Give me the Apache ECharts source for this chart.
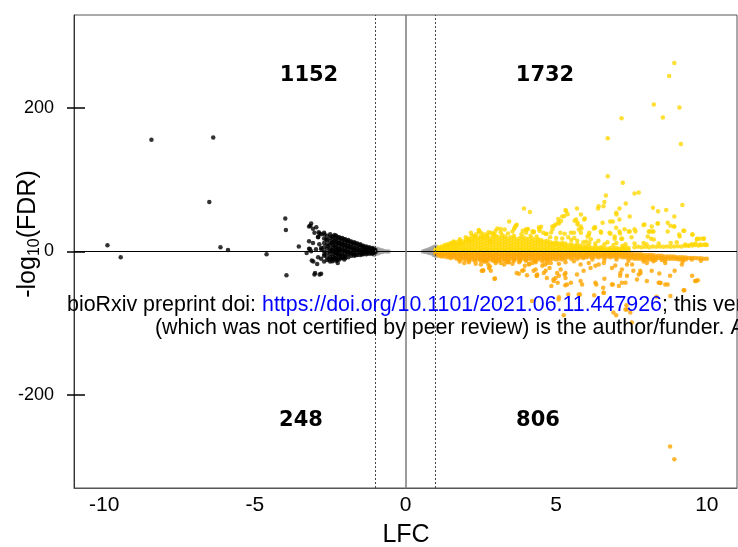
<!DOCTYPE html>
<html>
<head>
<meta charset="utf-8">
<script src="https://cdn.jsdelivr.net/npm/echarts@6/dist/echarts.min.js"></script>
<style>
html,body{margin:0;padding:0;background:#fff;}
#chart{width:738px;height:547px;}
</style>
</head>
<body>
<div id="chart"></div>
<script>
// ---- data ----
const xTicks = [-10, -5, 0, 5, 10];
const yTicks = [-200, 0, 200];
const countLabels = ['1152', '1732', '248', '806'];
const xLabel = 'LFC';

// grey (not significant) points
const greyPts = [
  [-1.04,5],[-1.04,1.5],[-1.04,-2],[-1.04,-5],[-0.97,4],[-0.97,0.5],[-0.97,-3],[-0.9,3],[-0.9,0],[-0.9,-2.5],
  [-0.83,2],[-0.83,-1],[-0.76,1.5],[-0.76,-0.8],[-0.69,0.5],[-0.62,0],[-0.56,0],
  [1.0,7],[1.0,3.5],[1.0,0],[1.0,-3.5],[1.0,-6],[0.93,6],[0.93,2.5],[0.93,-1],[0.93,-4.5],[0.86,4.5],[0.86,1],
  [0.86,-2.5],[0.79,3],[0.79,0],[0.79,-2],[0.72,2],[0.72,-1],[0.65,1],[0.65,-0.5],[0.58,0]
];

// black (down-regulated) dense band, columns: [x, y1, y2, ...]
const blackBand = [
  [-2.9,20,-8],[-2.8,24,5,-10],[-2.7,26,18,12,6,0,-6,-14],[-2.6,22,16,10,4,-2,-8,-12],
  [-2.5,24,19,14,9,4,0,-4,-8,-14],[-2.45,21,12,2,-10],[-2.4,21,17,13,9,5,1,-3,-7,-11],[-2.35,23,15,7,-1,-9],
  [-2.3,22,18,14,10,6,2,-2,-6,-10,-13],[-2.25,20,12,4,-4,-11],[-2.2,20,16,12,8,4,0,-4,-8,-11],
  [-2.15,18,10,2,-6],[-2.1,19,15,11,7,3,-1,-5,-9],[-2.05,17,9,1,-7],[-2.0,17,13,9,5,1,-3,-7,-9],
  [-1.95,15,7,-1],[-1.9,16,12,8,4,0,-4,-8],[-1.85,14,6,-2],[-1.8,14,10,6,2,-2,-6],[-1.75,12,4,-4],
  [-1.7,13,9,5,1,-3,-6],[-1.65,11,3,-5],[-1.6,11,7,3,-1,-5],[-1.55,9,1],[-1.5,10,6,2,-2,-5],
  [-1.45,8,0,-4],[-1.4,8,5,2,-1,-4],[-1.35,6,0],[-1.3,7,4,1,-2,-4],[-1.25,5,-1],[-1.2,6,3,0,-3],
  [-1.15,4,-2],[-1.1,5,2,-1,-3],[-1.05,3,0,-2],[-1.0,2,-1]
];
const blackPts = [
  [-9.89,8.8],[-9.45,-7.9],[-8.43,156],[-6.38,159],[-6.51,69],[-6.14,6],[-5.89,2],[-4.61,-3.8],
  [-3.99,46],[-3.97,30],[-3.95,-33],[-3.54,7],[-3.02,-32],[-2.8,-31],[-2.85,-32],
  [-3.13,39],[-3.16,36],[-3.2,35],[-2.96,34],[-3.07,31.6],[-3.02,26],[-2.85,25],[-2.88,27],
  [-3.2,14.3],[-3.07,12],[-2.9,20.5],[-2.69,23.7],[-2.63,16.7],[-2.86,10],[-3.2,4],[-3.13,0.5],
  [-2.97,3],[-3.28,-2],[-3.17,3.5],[-2.79,2.8],[-2.69,-4.2],[-2.53,-11],[-2.42,-13.5],[-2.25,-16],
  [-2.58,7.4],[-2.3,0.4],[-2.13,-9],[-2.03,-11],[-3.06,-14],[-2.93,-17.5],[-3.11,-12.5],[-3.0,-30]
];

// yellow (up, positive side) dense band, columns: [x, y1, y2, ...]
const yellowBand = [
  [1.0,1,3],[1.1,1,3.5,6],[1.2,2,5,7],[1.3,1,4,7,9],[1.4,2,5,8,10],[1.5,1,4,7,10,12],[1.6,2,5,8,11,13],
  [1.7,1,4,7,10,13],[1.8,2,6,9,12,15],[1.9,1,4,8,11,14],[2.0,2,5,9,13,16],[2.1,1,4,8,12,15,18],
  [2.2,2,6,10,14,17],[2.3,1,5,9,13,17,20],[2.4,3,7,11,15,19],[2.5,1,5,9,13,17,21],[2.6,2,6,10,14,18],
  [2.7,1,4,8,12,16,20,23],[2.8,2,6,10,14,18],[2.9,1,5,9,13,17,21],[3.0,2,6,10,14,18,22],
  [3.1,1,4,8,12,16,20],[3.2,2,6,10,14,19,23],[3.3,1,5,9,13,17,21],[3.4,2,6,10,14,18],
  [3.5,1,4,8,12,16,20],[3.6,2,6,10,14,18,22],[3.7,1,5,9,13,17],[3.8,2,6,10,14,19],
  [3.9,1,4,8,12,16,20],[4.0,2,6,10,14,18],[4.1,1,5,9,13,17],[4.2,2,6,10,14,18],[4.3,1,4,8,12,16],
  [4.4,2,6,10,14,17],[4.5,1,5,9,13,16],[4.6,2,6,10,14],[4.7,1,4,8,12,15],[4.8,2,6,10,13],
  [4.9,1,5,9,12],[5.0,2,6,10,13],[5.1,1,4,8,11],[5.2,2,6,9,12],[5.3,1,5,8,11],[5.4,2,5,9],
  [5.5,1,4,7,10],[5.6,2,5,8],[5.7,1,4,7,10],[5.8,2,5,8],[5.9,1,4,7],[6.0,2,5,8],[6.1,1,4,7],
  [6.2,2,5],[6.3,1,4,7],[6.4,2,5],[6.5,1,4,6],[6.6,2,5],[6.7,1,4],[6.8,2,5],[6.9,1,4],[7.0,2,5],
  [7.1,1,4],[7.2,2,5],[7.3,3,6],[7.4,2,5],[7.6,6],[7.72,6.5],[7.84,6],[7.96,6.5],[8.08,6],[8.2,7],
  [8.32,6.5],[8.44,7],[8.56,6.5],[8.68,7],[8.8,6.5],[8.92,7],[9.04,7.5],[9.16,7],[9.28,8],[9.4,8],
  [9.52,8.5],[9.62,9],[9.72,8.5],[9.82,9],[9.92,9.5],[10.0,9]
];
const yellowPts = [
  [8.92,263],[8.75,245],[8.24,205],[9.09,201],[8.54,187],[7.17,186],[9.14,150],[6.71,158],[6.71,105],
  [7.21,96],[6.65,78],[7.6,81],[7.74,82.5],[6.6,69],[7.31,67],[9.19,65],[6.41,63],[6.57,63],[6.39,60],
  [3.93,60],[4.13,55],[5.69,60],[5.31,58],[7.1,60],[8.21,61],[8.65,58],[8.38,56],[5.33,56],[5.2,49],
  [5.07,45.5],[5.09,39],[4.98,37.6],[4.87,35],[3.44,42],[3.66,36],[3.63,34],[3.05,32],[3.29,30.6],
  [3.16,27],[2.44,28],[2.43,30],[2.83,26],[4.04,30.6],[4.0,26],[4.25,27],[4.57,26],[4.68,24.6],
  [5.14,26],[5.28,24.6],[4.43,34],[4.21,28],[3.99,30.6],
  [5.82,51.5],[5.95,46],[5.61,43],[5.71,37.6],[5.75,30.6],[5.84,32],[7.0,51.5],[7.44,49],[7.1,44.5],
  [6.79,42],[6.54,40],[6.25,32],[6.28,34],[7.9,37],[8.37,39],[8.7,40],[8.79,36],[8.91,35],[8.92,49],
  [6.48,28],[6.08,23],[6.04,21],[6.15,17],[5.59,26],[6.8,24.6],[6.94,21],[7.12,25],[7.19,17.7],
  [7.41,28],[7.63,28],[7.5,20],[8.07,28],[8.18,28],[8.04,21],[8.15,17.7],[8.24,16.7],[7.9,12],
  [9.22,29],[9.1,21],[9.52,23.7],[9.67,16.7],[9.78,17.7],[9.89,17.7],[9.95,9.7],[9.78,9.7],[9.28,9.7],
  [9.39,8.4],[9.5,10],[9.62,11],
  [3.69,37.5],[3.6,31.3],[3.16,31.3],[2.99,29],[2.94,24.3],[2.72,22],[2.44,29],[2.28,22],[2.17,26],
  [2.06,17],[2.56,20.5],[2.79,14.5],[3.89,29],[4.06,31.3],[4.26,28],[4.5,34.5],[4.44,31.3],[4.66,24.3],
  [4.83,26.5],[4.94,36],[4.88,31],[5.07,40.4],[5.16,42.6],[5.27,49.6],[5.38,52],[5.66,44.5],[5.71,40],
  [5.93,44.5],[5.82,35],[5.49,26],[5.6,19],[5.82,26],[6.1,26],[6.29,33],[6.49,26],[6.77,26],[6.88,42],
  [6.99,33],[7.1,28],[7.27,31],[6.99,54],[6.94,17.7],[7.16,17.7],[7.44,28],[7.6,31],[7.93,37.6],
  [8.1,28],[8.17,35],[8.23,28],[8.37,39],[8.7,28],[8.92,35],[9.08,23.7],[9.25,29],[9.52,23.7],
  [9.68,17.7],[9.9,18],
  [1.6,14],[1.8,17],[2.0,20],[2.2,22],[2.35,24],[2.5,26],[2.6,24],[2.75,27],[2.9,25],[3.4,25],
  [3.55,28],[3.85,24],[4.15,22],[4.35,21],[4.45,29],[4.8,20],[5.0,19],[5.2,18],[5.4,20],[5.5,16],
  [5.7,15],[5.9,13],[6.1,12],[6.3,11],[6.6,10],[6.9,9],[7.2,8],[6.0,14],[6.4,15],[6.7,13],[7.0,12],
  [7.3,10],[7.6,11],[8.0,10],[8.4,11],[8.8,12],[9.0,13]
];

// orange (positive LFC, negative side) dense band, columns: [x, y1, y2, ...]
const orangeBand = [
  [1.0,-1,-3],[1.1,-1,-3.5,-6],[1.2,-2,-5,-7],[1.3,-1,-4,-7],[1.4,-2,-5,-8],[1.5,-1,-4,-7,-9],
  [1.6,-2,-5,-8],[1.7,-1,-4,-7,-10],[1.8,-2,-5,-8,-11],[1.9,-1,-4,-7,-10],[2.0,-2,-5,-8,-11],
  [2.1,-1,-4,-7,-10,-13],[2.2,-2,-5,-8,-11],[2.3,-1,-4,-7,-10,-13],[2.4,-2,-5,-8,-11],
  [2.5,-1,-4,-7,-10,-13],[2.6,-2,-5,-8,-11,-14],[2.7,-1,-4,-7,-10,-13],[2.8,-2,-5,-8,-11],
  [2.9,-1,-4,-7,-10,-13],[3.0,-2,-5,-8,-11,-14],[3.1,-1,-4,-7,-10,-13],[3.2,-2,-5,-8,-11],
  [3.3,-1,-4,-7,-10,-13],[3.4,-2,-5,-8,-11,-14],[3.5,-1,-4,-7,-10],[3.6,-2,-5,-8,-11,-13],
  [3.7,-1,-4,-7,-10],[3.8,-2,-5,-8,-11,-13],[3.9,-1,-4,-7,-10],[4.0,-2,-5,-8,-11,-13],
  [4.1,-1,-4,-7,-10],[4.2,-2,-5,-8,-11],[4.3,-1,-4,-7,-10,-13],[4.4,-2,-5,-8,-11],[4.5,-1,-4,-7,-10],
  [4.6,-2,-5,-8,-11],[4.7,-1,-4,-7,-10,-12],[4.8,-2,-5,-8,-11],[4.9,-1,-4,-7,-10],[5.0,-2,-5,-8,-11],
  [5.1,-1,-4,-7,-10],[5.2,-2,-5,-8,-11],[5.3,-1,-4,-7,-10],[5.4,-2,-5,-8],[5.5,-1,-4,-7,-10],
  [5.6,-2,-5,-8],[5.7,-1,-4,-7,-10],[5.8,-2,-5,-8],[5.9,-1,-4,-7,-9],[6.0,-2,-5,-8],[6.1,-1,-4,-7],
  [6.2,-2,-5,-8],[6.3,-1,-4,-7],[6.4,-2,-5,-8],[6.5,-1,-4,-7],[6.6,-2,-5,-8],[6.7,-1,-4,-7],
  [6.8,-2,-5,-8],[6.9,-1,-4,-7],[7.0,-2,-5,-8],[7.1,-1,-4,-7],[7.2,-2,-5,-8],[7.3,-2,-5,-8],
  [7.4,-3,-6,-9],[7.5,-3,-6,-9],[7.6,-4,-7,-10],[7.7,-4,-7,-10],[7.8,-4,-7,-10],[7.9,-5,-8,-11],
  [8.0,-5,-8,-11],[8.1,-5,-8,-11],[8.2,-5,-8,-11],[8.3,-6,-9,-12],[8.4,-6,-9],[8.5,-6,-9,-12],
  [8.6,-7,-10],[8.7,-7,-10],[8.8,-7,-10],[8.9,-7,-10],[9.0,-8,-10.5],[9.1,-8,-11],[9.2,-8,-11],
  [9.3,-8.5,-11],[9.4,-9],[9.5,-9,-11],[9.6,-9],[9.7,-9.5],[9.8,-9.5],[9.9,-10],[10.0,-10]
];
const orangePts = [
  [8.78,-272],[8.92,-290],
  [2.53,-27],[2.75,-18],[2.8,-21],[2.83,-27],[2.97,-37.6],[3.16,-16],[3.43,-15],[3.76,-31],[3.69,-30],
  [3.87,-27],[3.96,-20],[4.1,-18],[4.21,-16],[4.32,-25],[4.37,-32],[4.59,-30],[4.63,-18],[4.7,-16],
  [4.78,-23],[4.84,-48],[4.92,-41],[4.98,-37],[5.03,-30],[5.15,-25],[5.28,-32],[5.31,-37],[5.36,-46],
  [5.4,-60],[5.09,-64],[2.5,-18],[2.77,-23],[2.57,-27],[4.35,-34],[4.54,-20],[4.65,-27],[5.09,-34],
  [5.31,-30],
  [5.59,-13.5],[5.81,-18],[6.08,-16],[6.14,-23],[6.3,-20],[6.41,-18],[6.58,-16],[6.85,-23],[6.96,-19.5],
  [7.18,-25],[7.13,-30],[7.35,-18],[7.52,-18],[7.74,-32],[7.79,-27],[8.01,-16],[8.23,-13.5],[8.42,-30.6],
  [8.62,-16],[8.93,-27],[9.17,-18],[9.51,-34],[5.81,-41],[5.86,-46],[6.3,-43.6],[6.56,-50.5],[6.58,-57.5],
  [6.85,-46],[7.08,-48],[7.3,-43.6],[7.35,-34],[7.68,-39],[8.01,-41],[8.4,-43.6],[8.62,-46],[9.23,-54],
  [9.61,-41],[9.7,-40],[5.75,-60],[7.3,-81],[7.46,-85],
  [5.25,-89],[6.9,-85],[6.99,-89],[7.34,-81],[7.51,-99],[7.33,-75],[8.33,-63],[8.79,-62],[9.25,-54],
  [4.2,-69],[5.08,-67],[5.79,-60],[6.26,-61],[6.57,-57.5],[2.95,-38],[2.58,-26],[3.92,-26],[4.03,-33],
  [4.25,-27],[4.36,-34],[4.69,-37],[4.91,-39],[5.05,-43.6],[5.3,-47],[5.49,-43.6],[5.69,-32],[5.91,-27],
  [6.33,-46],[6.6,-38],[6.88,-46],[7.12,-34],[7.18,-43.6],[7.56,-27],[7.8,-30],[8.17,-27],[8.45,-43.6],
  [8.7,-46],[8.78,-34],[8.46,-44],[9.64,-41],
  [2.1,-15],[2.33,-17],[2.66,-14],[2.99,-16],[3.27,-18],[3.38,-15],[3.55,-17],[3.77,-15],[4.1,-17],
  [4.32,-15],[4.54,-14],[4.82,-16],[5.09,-17],[5.31,-15],[1.8,-14],[1.95,-16],[6.2,-11],[6.6,-12],
  [7.0,-11],[7.4,-13],[7.9,-14],[8.6,-13],[9.2,-14],[9.8,-13]
];

// ---- build ----
function expand(cols) {
  const out = [];
  cols.forEach(c => { for (let i = 1; i < c.length; i++) out.push([c[0], c[i]]); });
  return out;
}

const chart = echarts.init(document.getElementById('chart'), null, {renderer: 'canvas'});
const FONT = '"Liberation Sans", Arial, sans-serif';
const BOLD = '"DejaVu Sans", Verdana, sans-serif';

const option = {
  animation: false,
  backgroundColor: '#ffffff',
  grid: {left: 74, top: 15, right: 1, bottom: 59, show: true, borderColor: '#555', borderWidth: 1},
  xAxis: {
    type: 'value', min: -11, max: 11,
    axisLine: {show: true, onZero: false, lineStyle: {color: '#555', width: 1}},
    axisTick: {show: false},
    splitLine: {show: false},
    axisLabel: {customValues: xTicks, color: '#000', fontSize: 21, fontFamily: FONT, margin: 7,
      formatter: v => String(v)}
  },
  yAxis: [{
    type: 'value', min: -330, max: 330,
    axisLine: {show: true, onZero: false, lineStyle: {color: '#333', width: 1}},
    axisTick: {show: true, customValues: yTicks, length: 7, inside: false, lineStyle: {color: '#000', width: 1.5}},
    splitLine: {show: false},
    axisLabel: {customValues: yTicks, color: '#000', fontSize: 18, fontFamily: FONT, margin: 20,
      formatter: v => String(v)}
  }, {
    type: 'value', min: -330, max: 330, position: 'left',
    axisLine: {show: false, onZero: false},
    axisTick: {show: true, customValues: yTicks, length: 11, inside: true, lineStyle: {color: '#000', width: 1.5}},
    axisLabel: {show: false},
    splitLine: {show: false}
  }],
  series: [
    {type: 'scatter', name: 'ns', data: greyPts, symbolSize: 4.5, itemStyle: {color: '#9e9e9e'}, z: 2},
    {type: 'scatter', name: 'down', data: expand(blackBand).concat(blackPts), symbolSize: 4.5, itemStyle: {color: '#000'}, z: 3},
    {type: 'scatter', name: 'upNeg', data: expand(orangeBand).concat(orangePts), symbolSize: 4.5, itemStyle: {color: '#FFA500'}, z: 3},
    {type: 'scatter', name: 'upPos', data: expand(yellowBand).concat(yellowPts), symbolSize: 4.5, itemStyle: {color: '#FFD700'}, z: 3},
    {type: 'line', data: [], z: 5,
      markLine: {silent: true, symbol: 'none', label: {show: false}, animation: false,
        data: [
          {yAxis: 0, lineStyle: {color: '#000', width: 1, type: 'solid'}},
          {xAxis: 0, lineStyle: {color: '#7a7a7a', width: 1.5, type: 'solid'}},
          {xAxis: -1, lineStyle: {color: '#444', width: 1, type: [2, 2]}},
          {xAxis: 1, lineStyle: {color: '#444', width: 1, type: [2, 2]}}
        ]}}
  ],
  graphic: [
    {type: 'text', x: 309, y: 76, z: 10, style: {text: countLabels[0], font: 'bold 21px ' + BOLD, fill: '#000', align: 'center', verticalAlign: 'middle'}},
    {type: 'text', x: 545, y: 76, z: 10, style: {text: countLabels[1], font: 'bold 21px ' + BOLD, fill: '#000', align: 'center', verticalAlign: 'middle'}},
    {type: 'text', x: 301, y: 421, z: 10, style: {text: countLabels[2], font: 'bold 21px ' + BOLD, fill: '#000', align: 'center', verticalAlign: 'middle'}},
    {type: 'text', x: 538, y: 421, z: 10, style: {text: countLabels[3], font: 'bold 21px ' + BOLD, fill: '#000', align: 'center', verticalAlign: 'middle'}},
    {type: 'text', x: 406, y: 535, z: 10, style: {text: xLabel, font: '25px ' + FONT, fill: '#000', align: 'center', verticalAlign: 'middle'}},
    {type: 'text', x: 28, y: 234, rotation: Math.PI / 2, z: 10,
      style: {text: '{m|-log}{s|10}{m|(FDR)}', align: 'center', verticalAlign: 'middle', fill: '#000',
        rich: {m: {fontSize: 25, fontFamily: FONT, fill: '#000', lineHeight: 30, verticalAlign: 'middle'},
               s: {fontSize: 16, fontFamily: FONT, fill: '#000', lineHeight: 30, verticalAlign: 'bottom', padding: [10, 0, 0, 0]}}}},
    {type: 'text', x: 67, y: 305, z: 10,
      style: {text: '{a|bioRxiv preprint doi: }{b|https://doi.org/10.1101/2021.06.11.447926}{a|; this version posted June 11, 2021. The copyright holder for this preprint}',
        verticalAlign: 'middle', align: 'left',
        rich: {a: {fontSize: 21.4, fontFamily: FONT, fill: '#000'}, b: {fontSize: 21.4, fontFamily: FONT, fill: '#0000ff'}}}},
    {type: 'text', x: 155, y: 328, z: 10,
      style: {text: '(which was not certified by peer review) is the author/funder. All rights reserved. No reuse allowed without permission.',
        font: '21.4px ' + FONT, fill: '#000', align: 'left', verticalAlign: 'middle'}}
  ]
};
chart.setOption(option);
</script>
</body>
</html>
